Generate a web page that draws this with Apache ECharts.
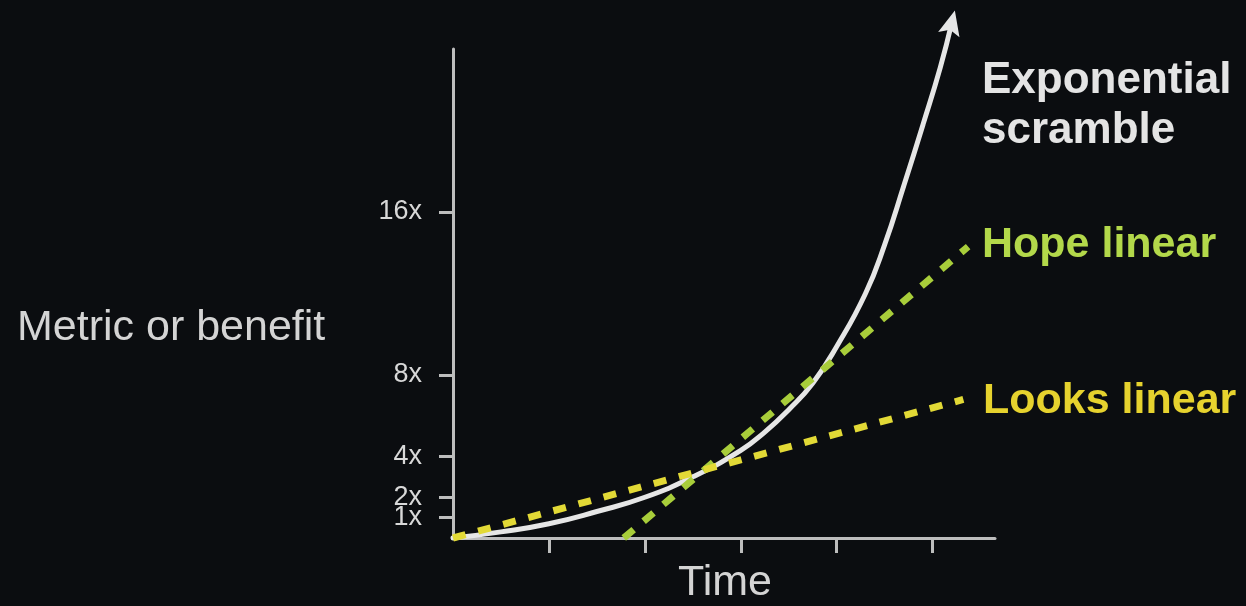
<!DOCTYPE html>
<html>
<head>
<meta charset="utf-8">
<script src="https://cdn.jsdelivr.net/npm/echarts@6/dist/echarts.min.js"></script>
<style>
  html, body { margin: 0; padding: 0; background: #0b0d10; }
  #chart { width: 1246px; height: 606px; }
</style>
</head>
<body>
<div id="chart"></div>
<script>
// ---- data ----
var yTickValues = [1, 2, 4, 8, 16];
var yTickLabels = ['1x', '2x', '4x', '8x', '16x'];
var xTickValues = [1, 2, 3, 4, 5];

// Exponential scramble curve: [time, metric]
var expTime  = [0, 0.5, 1.0, 1.5, 2.0, 2.5, 3.0, 3.25, 3.5, 3.75, 4.0, 4.3, 4.5, 4.7, 4.9, 5.08, 5.2];
var expValue = [0, 0.3, 0.7, 1.3, 2.0, 3.0, 4.3, 5.2, 6.3, 7.6, 9.4, 12.0, 14.4, 17.3, 20.3, 23.1, 25.3];

// Hope linear: [time, metric]
var hopeTime  = [1.78, 5.37];
var hopeValue = [0, 14.3];

// Looks linear: [time, metric]
var looksTime  = [0, 5.32];
var looksValue = [0, 6.8];

var seriesNames = ['Exponential scramble', 'Hope linear', 'Looks linear'];

function pairs(xs, ys) { return xs.map(function (x, i) { return [x, ys[i]]; }); }

var arrowHead = 'path://M10,0 L21,25 L10,20 L-1,25 Z';
var expData = pairs(expTime, expValue).map(function (p, i, arr) {
  if (i === arr.length - 1) {
    return { value: p, symbol: arrowHead, symbolSize: [22, 25], symbolRotate: -14, itemStyle: { color: '#e6e6e6' } };
  }
  return { value: p };
});

var axisColor = '#bdbdbd';
var labelStyle = {
  margin: 31, hideOverlap: false,
  color: '#d8d8d8', fontSize: 27, fontFamily: 'Liberation Sans, Arial, sans-serif',
  formatter: function (v) { return yTickLabels[yTickValues.indexOf(v)]; }
};
function yAxisFor(values, showLine) {
  return {
    type: 'value', min: 0, max: 24, position: 'left',
    axisLine: { show: showLine, lineStyle: { color: axisColor, width: 3 } },
    axisTick: { show: true, customValues: values, length: 14, lineStyle: { color: axisColor, width: 3 } },
    axisLabel: Object.assign({ show: true, customValues: values }, labelStyle),
    splitLine: { show: false }
  };
}

var chart = echarts.init(document.getElementById('chart'));
chart.setOption({
  backgroundColor: '#0b0d10',
  animation: false,
  grid: { left: 453, top: 49, width: 542, height: 489, containLabel: false },
  xAxis: {
    type: 'value', min: 0, max: 5.65,
    axisLine: { show: true, lineStyle: { color: axisColor, width: 3 } },
    axisTick: { show: true, customValues: xTickValues, length: 15, lineStyle: { color: axisColor, width: 3 } },
    axisLabel: { show: false },
    splitLine: { show: false }
  },
  yAxis: [
    yAxisFor(yTickValues.filter(function (v, i) { return i % 2 === 1; }), true),
    yAxisFor(yTickValues.filter(function (v, i) { return i % 2 === 0; }), false)
  ],
  series: [
    {
      name: seriesNames[0], type: 'line', data: expData, smooth: 0.5,
      symbol: 'none', showSymbol: true, clip: false, z: 2,
      lineStyle: { color: '#e6e6e6', width: 5, cap: 'round' }
    },
    {
      name: seriesNames[1], type: 'line', data: pairs(hopeTime, hopeValue),
      symbol: 'none', clip: false, z: 3,
      lineStyle: { color: '#a8cd3a', width: 7, type: [13, 13], cap: 'butt' }
    },
    {
      name: seriesNames[2], type: 'line', data: pairs(looksTime, looksValue),
      symbol: 'none', clip: false, z: 4,
      lineStyle: { color: '#e2d936', width: 7, type: [13, 13], cap: 'butt' }
    }
  ],
  graphic: [
    { type: 'text', left: 982, top: 56, z: 10,
      style: { text: 'Exponential\nscramble', fill: '#e4e4e4', font: 'bold 44px "Liberation Sans", Arial, sans-serif', lineHeight: 50, verticalAlign: 'top' } },
    { type: 'text', x: 982, y: 245, z: 10,
      style: { text: 'Hope linear', fill: '#b3d84a', font: 'bold 43px "Liberation Sans", Arial, sans-serif', verticalAlign: 'middle' } },
    { type: 'text', x: 983, y: 401, z: 10,
      style: { text: 'Looks linear', fill: '#e6d22e', font: 'bold 43px "Liberation Sans", Arial, sans-serif', verticalAlign: 'middle' } },
    { type: 'text', x: 17, y: 328, z: 10,
      style: { text: 'Metric or benefit', fill: '#d4d4d4', font: '43px "Liberation Sans", Arial, sans-serif', verticalAlign: 'middle' } },
    { type: 'text', x: 725, y: 583, z: 10,
      style: { text: 'Time', fill: '#d4d4d4', font: '43px "Liberation Sans", Arial, sans-serif', align: 'center', verticalAlign: 'middle' } }
  ]
});
</script>
</body>
</html>
